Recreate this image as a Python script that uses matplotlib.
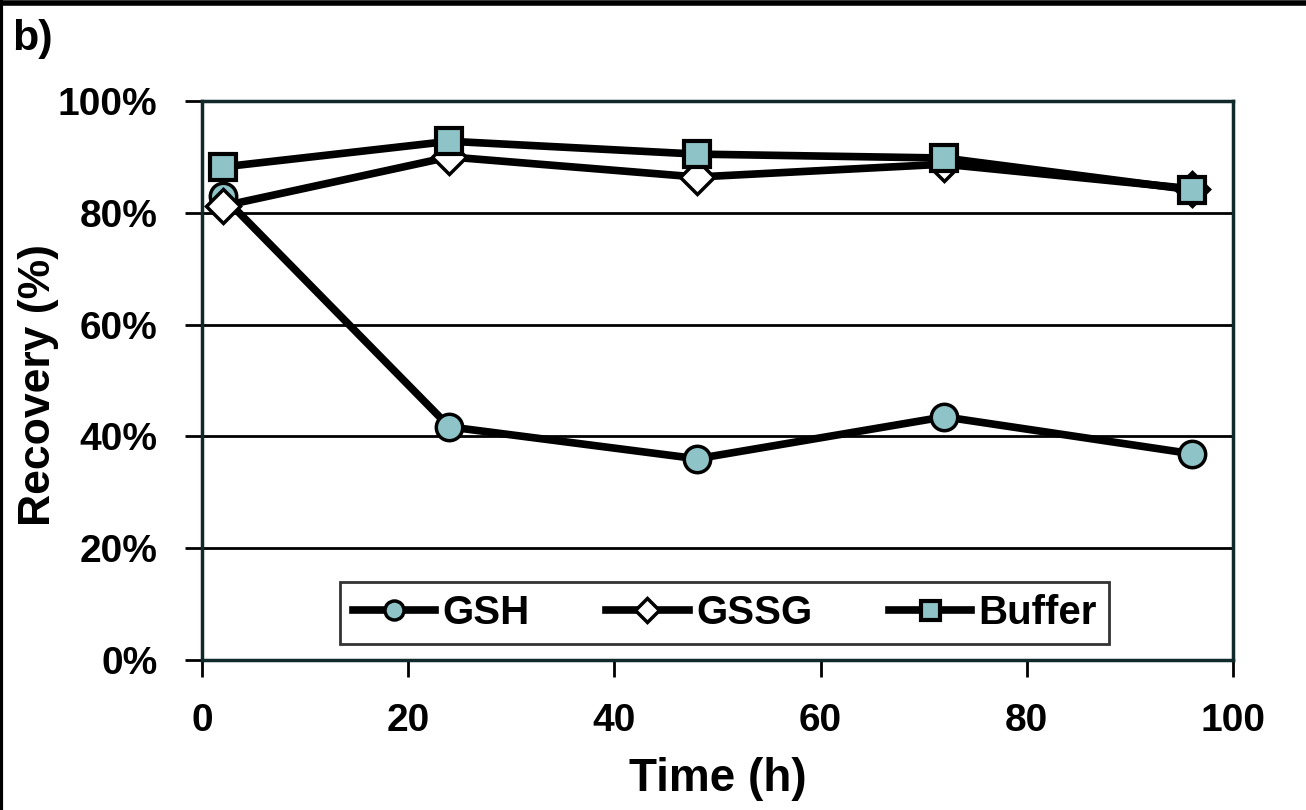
import matplotlib.pyplot as plt
from matplotlib.lines import Line2D
from matplotlib.ticker import PercentFormatter

plt.rcParams['font.family'] = ['Liberation Sans', 'DejaVu Sans']
plt.rcParams['font.weight'] = 'bold'

time_h = [2, 24, 48, 72, 96]
gsh = [83.0, 41.7, 36.0, 43.5, 36.9]
gssg = [81.2, 90.0, 86.4, 88.7, 84.3]
buffer = [88.2, 92.8, 90.5, 89.8, 84.1]

teal = '#8ec4c8'

fig = plt.figure(figsize=(13.06, 8.10), dpi=100)
ax = fig.add_axes([0.1547, 0.1852, 0.7894, 0.6901])

ax.plot(time_h, gsh, color='black', lw=5.5, marker='o', ms=19,
        mfc=teal, mec='black', mew=2.5, label='GSH', zorder=3)
ax.plot(time_h, gssg, color='black', lw=5.5, marker='D', ms=17,
        mfc='white', mec='black', mew=2.5, label='GSSG', zorder=4)
ax.plot(time_h, buffer, color='black', lw=5.5, marker='s', ms=19,
        mfc=teal, mec='black', mew=3, label='Buffer', zorder=5)

ax.set_xlim(0, 100)
ax.set_ylim(0, 100)
ax.set_xticks([0, 20, 40, 60, 80, 100])
ax.set_yticks([0, 20, 40, 60, 80, 100])
ax.yaxis.set_major_formatter(PercentFormatter(decimals=0))
ax.tick_params(axis='both', direction='out', length=12, width=2,
               labelsize=28)
ax.tick_params(axis='y', pad=20)
ax.tick_params(axis='x', pad=19)
ax.grid(axis='y', color='black', lw=2)
ax.set_axisbelow(True)
for s in ax.spines.values():
    s.set_linewidth(2.5)
    s.set_color('#102a2c')

ax.set_xlabel('Time (h)', fontsize=33, fontweight='bold', labelpad=13)
ax.set_ylabel('Recovery (%)', fontsize=32, fontweight='bold')
ax.yaxis.label.set_verticalalignment('center')
ax.yaxis.set_label_coords(-0.159, 0.492)

leg = ax.legend(loc='center', bbox_to_anchor=(0.507, 0.084), ncol=3,
                fontsize=29, frameon=True, fancybox=False, markerscale=0.72,
                handlelength=2.05, columnspacing=1.9, handletextpad=0.18,
                borderpad=0.3, borderaxespad=0)
leg.get_frame().set_edgecolor('black')
leg.get_frame().set_linewidth(2)

fig.text(0.009, 0.952, 'b)', fontsize=31, fontweight='bold', va='center')

fig.add_artist(Line2D([0, 1], [0.996, 0.996], color='black', lw=4))
fig.add_artist(Line2D([0.001, 0.001], [0, 1], color='black', lw=3))

fig.savefig('out.png', dpi=100)
